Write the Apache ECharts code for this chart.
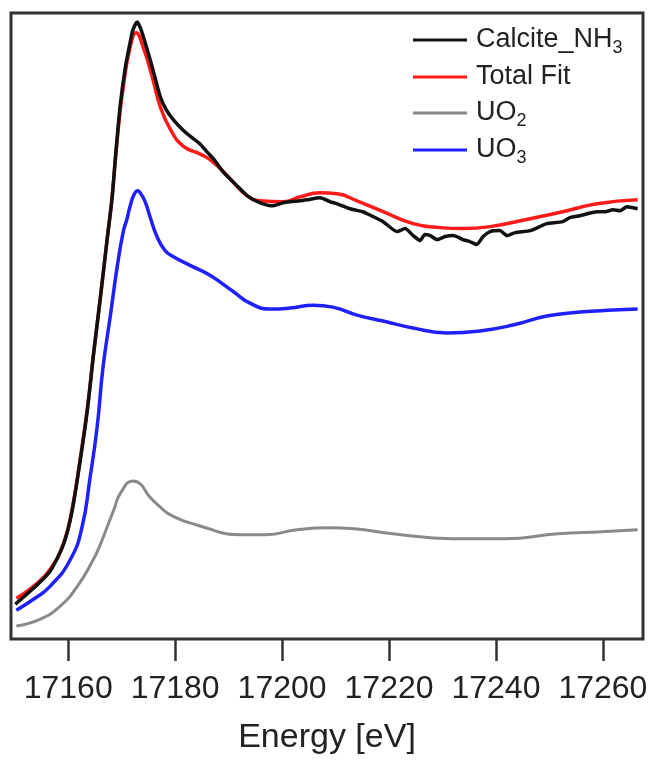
<!DOCTYPE html>
<html>
<head>
<meta charset="utf-8">
<script src="https://cdn.jsdelivr.net/npm/echarts@6/dist/echarts.min.js"></script>
<style>
  html, body { margin: 0; padding: 0; background: #fff; }
  #chart { width: 653px; height: 760px; }
</style>
</head>
<body>
<div id="chart"></div>
<script>
// U L3-edge XANES: measured sample, linear-combination fit and the two reference spectra (offset, arbitrary units)
const tickValues = [17160, 17180, 17200, 17220, 17240, 17260];

const calciteEnergy = [17150.1, 17153.5, 17156.6, 17159.1, 17160.7, 17162.2, 17163.6, 17164.7, 17166.0, 17167.3,
  17168.2, 17168.8, 17169.7, 17170.7, 17171.6, 17172.1, 17172.9, 17173.5, 17174.4, 17175.7,
  17177.2, 17178.3, 17179.6, 17181.5, 17182.8, 17184.7, 17186.0, 17187.5, 17189.0, 17191.6,
  17193.5, 17195.9, 17198.3, 17200.2, 17201.5, 17203.4, 17204.7, 17207.1, 17209.0, 17210.3,
  17212.7, 17215.1, 17215.9, 17218.9, 17221.5, 17223.0, 17224.5, 17225.8, 17226.7, 17227.7,
  17229.0, 17230.5, 17232.0, 17233.8, 17235.1, 17236.4, 17237.6, 17238.9, 17240.7, 17242.1,
  17243.6, 17246.4, 17248.2, 17249.5, 17252.5, 17253.8, 17255.7, 17258.9, 17260.4, 17261.9,
  17263.2, 17264.5, 17265.6, 17266.5];
const calciteValues = [0.35, 0.51, 0.68, 0.95, 1.28, 1.78, 2.31, 2.85, 3.43, 4.03,
  4.43, 4.83, 5.36, 5.76, 6.01, 6.13, 6.21, 6.15, 6.00, 5.76,
  5.46, 5.33, 5.23, 5.12, 5.06, 4.98, 4.90, 4.81, 4.70, 4.56,
  4.46, 4.39, 4.36, 4.39, 4.40, 4.41, 4.42, 4.44, 4.40, 4.38,
  4.33, 4.30, 4.28, 4.20, 4.10, 4.13, 4.06, 4.01, 4.07, 4.06,
  4.02, 4.05, 4.06, 4.02, 4.00, 3.97, 4.05, 4.10, 4.11, 4.06,
  4.09, 4.11, 4.15, 4.18, 4.20, 4.24, 4.26, 4.30, 4.30, 4.32,
  4.31, 4.35, 4.34, 4.33];

const fitEnergy = [17150.3, 17153.5, 17156.6, 17159.1, 17160.7, 17162.2, 17163.6, 17164.7, 17166.0, 17167.3,
  17168.2, 17169.3, 17170.3, 17171.6, 17172.7, 17174.0, 17175.7, 17177.2, 17179.1, 17181.5,
  17184.7, 17187.1, 17190.3, 17193.5, 17195.9, 17200.2, 17203.4, 17207.1, 17210.3, 17214.0,
  17218.9, 17224.5, 17229.5, 17233.8, 17238.9, 17246.4, 17252.5, 17258.9, 17266.5];
const fitValues = [0.41, 0.53, 0.70, 0.96, 1.30, 1.80, 2.33, 2.85, 3.43, 4.03,
  4.45, 5.10, 5.56, 5.96, 6.10, 5.96, 5.66, 5.36, 5.13, 4.96,
  4.88, 4.80, 4.63, 4.46, 4.41, 4.40, 4.45, 4.49, 4.48, 4.41,
  4.30, 4.18, 4.14, 4.13, 4.15, 4.23, 4.30, 4.38, 4.42];

const uo2Energy = [17150.3, 17154.8, 17158.5, 17161.7, 17164.7, 17166.0, 17167.3, 17168.6, 17169.7, 17172.1,
  17173.5, 17175.1, 17177.2, 17179.1, 17184.5, 17192.3, 17197.0, 17202.8, 17208.8, 17213.5,
  17220.7, 17231.9, 17241.7, 17251.6, 17259.6, 17266.5];
const uo2Values = [0.13, 0.20, 0.33, 0.53, 0.80, 0.95, 1.13, 1.31, 1.46, 1.59,
  1.56, 1.44, 1.33, 1.25, 1.14, 1.05, 1.05, 1.10, 1.12, 1.11,
  1.06, 1.01, 1.01, 1.06, 1.08, 1.10];

const uo3Energy = [17150.3, 17153.5, 17156.6, 17160.4, 17162.6, 17164.1, 17165.4, 17166.5, 17167.9, 17169.2,
  17170.3, 17171.0, 17171.6, 17172.3, 17173.0, 17173.6, 17174.4, 17175.3, 17176.6, 17178.1,
  17179.6, 17182.8, 17186.5, 17190.8, 17194.0, 17197.8, 17201.5, 17205.8, 17209.5, 17214.0,
  17218.9, 17224.5, 17230.8, 17237.0, 17243.2, 17249.5, 17255.7, 17261.9, 17266.5];
const uo3Values = [0.29, 0.40, 0.53, 0.80, 1.13, 1.63, 2.13, 2.73, 3.26, 3.76,
  4.10, 4.23, 4.36, 4.47, 4.51, 4.48, 4.40, 4.25, 4.05, 3.91,
  3.85, 3.76, 3.66, 3.50, 3.38, 3.32, 3.33, 3.36, 3.34, 3.26,
  3.20, 3.13, 3.08, 3.10, 3.16, 3.25, 3.29, 3.31, 3.32];

const seriesNames = ['Calcite_NH3', 'Total Fit', 'UO2', 'UO3'];

function pairs(xs, ys) { return xs.map((x, i) => [x, ys[i]]); }

const FONT = '"Liberation Sans", Arial, sans-serif';
const INK = '#222';

// trailing digit of a formula is set as a subscript
function legendLabel(name) {
  return name.replace(/(\d)$/, '{s|$1}');
}

function legendFor(name, centerY) {
  return {
    data: [name],
    left: 408,
    top: centerY - 17,
    orient: 'vertical',
    icon: 'rect',
    itemWidth: 54,
    itemHeight: 3,
    itemGap: 0,
    selectedMode: false,
    formatter: legendLabel,
    textStyle: {
      fontFamily: FONT, fontSize: 27, color: INK, lineHeight: 34, padding: [0, 0, 0, 4],
      rich: { s: { fontFamily: FONT, fontSize: 18, lineHeight: 15, color: INK, verticalAlign: 'bottom' } }
    }
  };
}

function lineSeries(name, data, color, width, smooth, z) {
  return {
    name, type: 'line', data, symbol: 'none', smooth, z,
    lineStyle: { color, width }, itemStyle: { color },
    animation: false
  };
}

const chart = echarts.init(document.getElementById('chart'), null, { renderer: 'canvas' });
chart.setOption({
  backgroundColor: '#fff',
  animation: false,
  grid: {
    left: 11, right: 10, top: 13, bottom: 117,
    show: true, borderColor: '#333', borderWidth: 3, backgroundColor: 'transparent'
  },
  legend: [
    legendFor(seriesNames[0], 35),
    legendFor(seriesNames[1], 72),
    legendFor(seriesNames[2], 108),
    legendFor(seriesNames[3], 145)
  ],
  xAxis: {
    type: 'value', min: 17149.3, max: 17267.5,
    name: 'Energy [eV]', nameLocation: 'middle', nameGap: 82,
    nameTextStyle: { fontFamily: FONT, fontSize: 34, color: INK },
    axisLine: { show: false },
    splitLine: { show: false },
    axisTick: { show: true, inside: false, length: 22, customValues: tickValues, lineStyle: { color: '#333', width: 2.5 } },
    axisLabel: {
      show: true, margin: 34, customValues: tickValues, fontFamily: FONT, fontSize: 32, color: INK,
      formatter: v => String(v)
    }
  },
  yAxis: {
    type: 'value', min: 0, max: 6.3,
    axisLine: { show: false }, axisTick: { show: false }, axisLabel: { show: false }, splitLine: { show: false }
  },
  series: [
    lineSeries(seriesNames[2], pairs(uo2Energy, uo2Values), '#8a8a8a', 3, 0.5, 2),
    lineSeries(seriesNames[3], pairs(uo3Energy, uo3Values), '#2020ff', 3.5, 0.5, 3),
    lineSeries(seriesNames[1], pairs(fitEnergy, fitValues), '#ff1a1a', 3.5, 0.5, 4),
    lineSeries(seriesNames[0], pairs(calciteEnergy, calciteValues), '#111111', 3.5, 0.2, 5)
  ]
});
</script>
</body>
</html>
